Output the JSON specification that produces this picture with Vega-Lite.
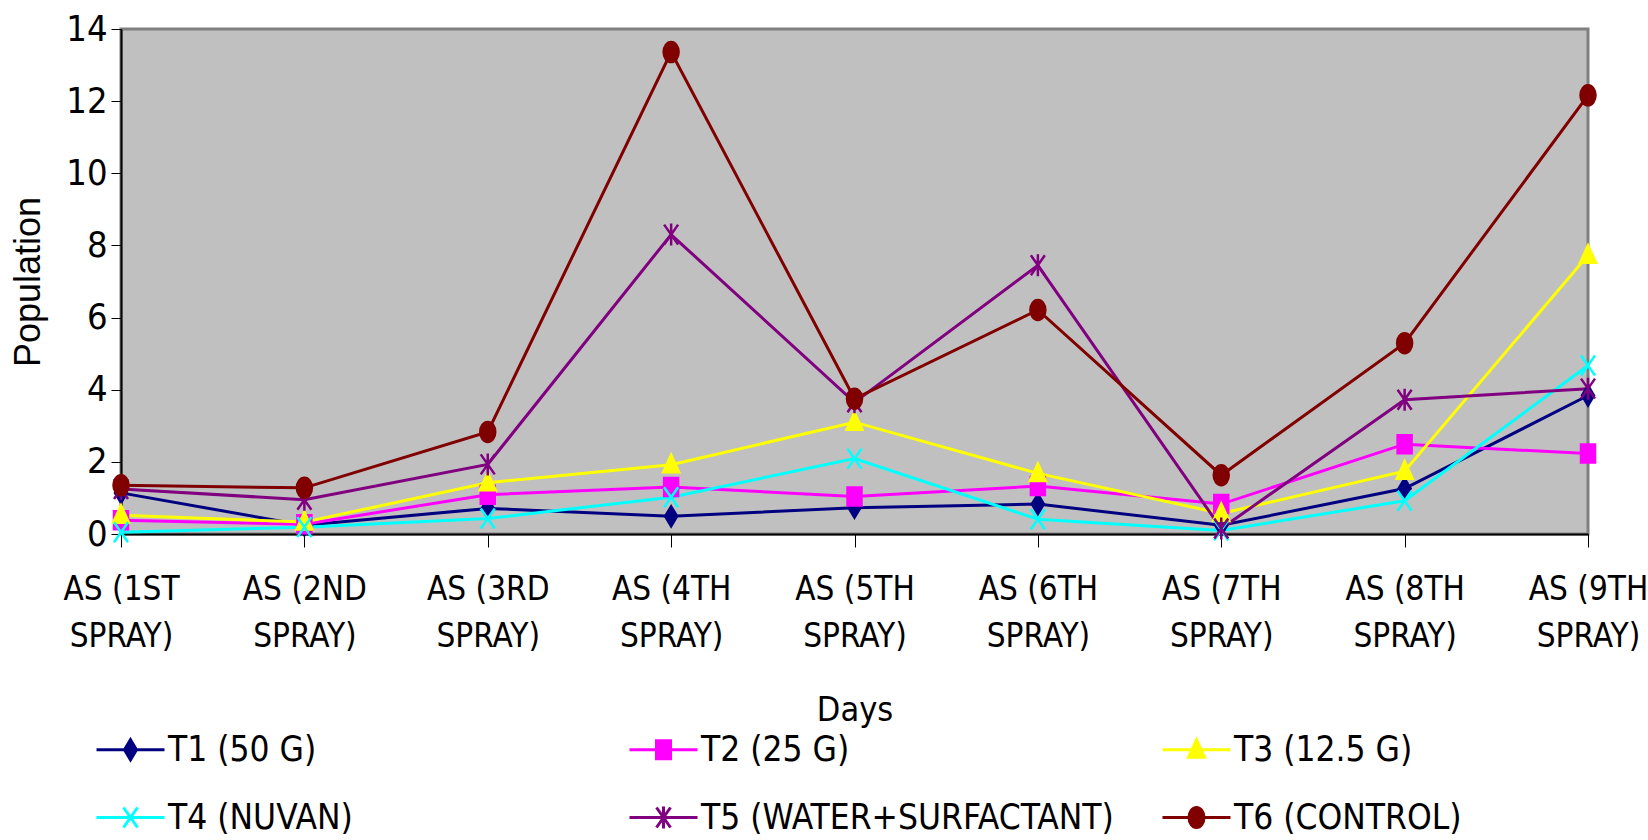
{
  "$schema": "https://vega.github.io/schema/vega-lite/v6.json",
  "width": 1467,
  "height": 505,
  "autosize": {"type": "none"},
  "padding": {"left": 121, "top": 29, "right": 60, "bottom": 306},
  "background": "white",
  "config": {
    "font": "DejaVu Sans Condensed, Noto Sans Condensed, Liberation Sans, sans-serif",
    "view": {"fill": "#C0C0C0", "stroke": "#808080", "strokeWidth": 3}
  },
  "data": {
    "values": [
      {"day": "AS (1ST SPRAY)", "t": "T1 (50 G)", "v": 1.14},
      {"day": "AS (2ND SPRAY)", "t": "T1 (50 G)", "v": 0.24},
      {"day": "AS (3RD SPRAY)", "t": "T1 (50 G)", "v": 0.71},
      {"day": "AS (4TH SPRAY)", "t": "T1 (50 G)", "v": 0.49},
      {"day": "AS (5TH SPRAY)", "t": "T1 (50 G)", "v": 0.73},
      {"day": "AS (6TH SPRAY)", "t": "T1 (50 G)", "v": 0.83},
      {"day": "AS (7TH SPRAY)", "t": "T1 (50 G)", "v": 0.24},
      {"day": "AS (8TH SPRAY)", "t": "T1 (50 G)", "v": 1.26},
      {"day": "AS (9TH SPRAY)", "t": "T1 (50 G)", "v": 3.84},
      {"day": "AS (1ST SPRAY)", "t": "T2 (25 G)", "v": 0.38},
      {"day": "AS (2ND SPRAY)", "t": "T2 (25 G)", "v": 0.27},
      {"day": "AS (3RD SPRAY)", "t": "T2 (25 G)", "v": 1.09},
      {"day": "AS (4TH SPRAY)", "t": "T2 (25 G)", "v": 1.3},
      {"day": "AS (5TH SPRAY)", "t": "T2 (25 G)", "v": 1.04},
      {"day": "AS (6TH SPRAY)", "t": "T2 (25 G)", "v": 1.33},
      {"day": "AS (7TH SPRAY)", "t": "T2 (25 G)", "v": 0.83},
      {"day": "AS (8TH SPRAY)", "t": "T2 (25 G)", "v": 2.49},
      {"day": "AS (9TH SPRAY)", "t": "T2 (25 G)", "v": 2.23},
      {"day": "AS (1ST SPRAY)", "t": "T3 (12.5 G)", "v": 0.52},
      {"day": "AS (2ND SPRAY)", "t": "T3 (12.5 G)", "v": 0.33},
      {"day": "AS (3RD SPRAY)", "t": "T3 (12.5 G)", "v": 1.42},
      {"day": "AS (4TH SPRAY)", "t": "T3 (12.5 G)", "v": 1.92},
      {"day": "AS (5TH SPRAY)", "t": "T3 (12.5 G)", "v": 3.1},
      {"day": "AS (6TH SPRAY)", "t": "T3 (12.5 G)", "v": 1.68},
      {"day": "AS (7TH SPRAY)", "t": "T3 (12.5 G)", "v": 0.57},
      {"day": "AS (8TH SPRAY)", "t": "T3 (12.5 G)", "v": 1.74},
      {"day": "AS (9TH SPRAY)", "t": "T3 (12.5 G)", "v": 7.73},
      {"day": "AS (1ST SPRAY)", "t": "T4 (NUVAN)", "v": 0.05},
      {"day": "AS (2ND SPRAY)", "t": "T4 (NUVAN)", "v": 0.19},
      {"day": "AS (3RD SPRAY)", "t": "T4 (NUVAN)", "v": 0.43},
      {"day": "AS (4TH SPRAY)", "t": "T4 (NUVAN)", "v": 1.02},
      {"day": "AS (5TH SPRAY)", "t": "T4 (NUVAN)", "v": 2.09},
      {"day": "AS (6TH SPRAY)", "t": "T4 (NUVAN)", "v": 0.41},
      {"day": "AS (7TH SPRAY)", "t": "T4 (NUVAN)", "v": 0.1},
      {"day": "AS (8TH SPRAY)", "t": "T4 (NUVAN)", "v": 0.92},
      {"day": "AS (9TH SPRAY)", "t": "T4 (NUVAN)", "v": 4.67},
      {"day": "AS (1ST SPRAY)", "t": "T5 (WATER+SURFACTANT)", "v": 1.25},
      {"day": "AS (2ND SPRAY)", "t": "T5 (WATER+SURFACTANT)", "v": 0.95},
      {"day": "AS (3RD SPRAY)", "t": "T5 (WATER+SURFACTANT)", "v": 1.93},
      {"day": "AS (4TH SPRAY)", "t": "T5 (WATER+SURFACTANT)", "v": 8.3},
      {"day": "AS (5TH SPRAY)", "t": "T5 (WATER+SURFACTANT)", "v": 3.65},
      {"day": "AS (6TH SPRAY)", "t": "T5 (WATER+SURFACTANT)", "v": 7.45},
      {"day": "AS (7TH SPRAY)", "t": "T5 (WATER+SURFACTANT)", "v": 0.15},
      {"day": "AS (8TH SPRAY)", "t": "T5 (WATER+SURFACTANT)", "v": 3.72},
      {"day": "AS (9TH SPRAY)", "t": "T5 (WATER+SURFACTANT)", "v": 4.03},
      {"day": "AS (1ST SPRAY)", "t": "T6 (CONTROL)", "v": 1.35},
      {"day": "AS (2ND SPRAY)", "t": "T6 (CONTROL)", "v": 1.28},
      {"day": "AS (3RD SPRAY)", "t": "T6 (CONTROL)", "v": 2.83},
      {"day": "AS (4TH SPRAY)", "t": "T6 (CONTROL)", "v": 13.36},
      {"day": "AS (5TH SPRAY)", "t": "T6 (CONTROL)", "v": 3.75},
      {"day": "AS (6TH SPRAY)", "t": "T6 (CONTROL)", "v": 6.21},
      {"day": "AS (7TH SPRAY)", "t": "T6 (CONTROL)", "v": 1.63},
      {"day": "AS (8TH SPRAY)", "t": "T6 (CONTROL)", "v": 5.29},
      {"day": "AS (9TH SPRAY)", "t": "T6 (CONTROL)", "v": 12.16}
    ]
  },
  "encoding": {
    "x": {
      "field": "day",
      "type": "ordinal",
      "sort": null,
      "scale": {"type": "point", "padding": 0},
      "axis": {
        "title": "Days",
        "titleFontSize": 34,
        "titleFontWeight": "normal",
        "titleColor": "black",
        "titleBaseline": "top",
        "titleY": 159,
        "labelExpr": "[substring(datum.label, 0, 7), substring(datum.label, 8)]",
        "labelAngle": 0,
        "labelFontSize": 33,
        "labelColor": "black",
        "labelLineHeight": 47,
        "labelPadding": 26,
        "tickSize": 13,
        "tickColor": "black",
        "domainColor": "black",
        "domainWidth": 2,
        "labelOverlap": false
      }
    },
    "y": {
      "field": "v",
      "type": "quantitative",
      "scale": {"domain": [0, 14], "nice": false},
      "axis": {
        "title": "Population",
        "titleFont": "Liberation Sans",
        "titleFontSize": 36,
        "titleFontWeight": "normal",
        "titleColor": "black",
        "titleBaseline": "top",
        "titleX": -110,
        "values": [0, 2, 4, 6, 8, 10, 12, 14],
        "labelFontSize": 36,
        "labelColor": "black",
        "labelPadding": 4,
        "tickSize": 10,
        "tickColor": "black",
        "domainColor": "black",
        "domainWidth": 2,
        "grid": false
      }
    }
  },
  "layer": [
    {
      "mark": {"type": "line", "strokeWidth": 3},
      "encoding": {
        "stroke": {
          "field": "t",
          "type": "nominal",
          "scale": {
            "domain": ["T1 (50 G)", "T2 (25 G)", "T3 (12.5 G)", "T4 (NUVAN)", "T5 (WATER+SURFACTANT)", "T6 (CONTROL)"],
            "range": ["#000080", "#FF00FF", "#FFFF00", "#00FFFF", "#800080", "#800000"]
          },
          "legend": null
        }
      }
    },
    {
      "mark": {"type": "point", "filled": true, "opacity": 1, "size": 400, "strokeWidth": 2.5},
      "encoding": {
        "fill": {
          "field": "t",
          "type": "nominal",
          "scale": {
            "domain": ["T1 (50 G)", "T2 (25 G)", "T3 (12.5 G)", "T4 (NUVAN)", "T5 (WATER+SURFACTANT)", "T6 (CONTROL)"],
            "range": ["#000080", "#FF00FF", "#FFFF00", "#00FFFF", "#800080", "#800000"]
          },
          "legend": null
        },
        "stroke": {
          "field": "t",
          "type": "nominal",
          "scale": {
            "domain": ["T1 (50 G)", "T2 (25 G)", "T3 (12.5 G)", "T4 (NUVAN)", "T5 (WATER+SURFACTANT)", "T6 (CONTROL)"],
            "range": ["#000080", "#FF00FF", "#FFFF00", "#00FFFF", "#800080", "#800000"]
          },
          "legend": null
        },
        "shape": {
          "field": "t",
          "type": "nominal",
          "scale": {
            "domain": ["T1 (50 G)", "T2 (25 G)", "T3 (12.5 G)", "T4 (NUVAN)", "T5 (WATER+SURFACTANT)", "T6 (CONTROL)"],
            "range": [
              "M0,-1L0.6,0L0,1L-0.6,0Z",
              "M-0.7,-0.9H0.7V0.9H-0.7Z",
              "M0,-1L0.8,0.75L-0.8,0.75Z",
              "M-0.7,-1L0.7,1M-0.7,1L0.7,-1",
              "M-0.7,-1L0.7,1M-0.7,1L0.7,-1M0,-1.1V1.1",
              "M-0.75,0A0.75,1,0,1,0,0.75,0A0.75,1,0,1,0,-0.75,0Z"
            ]
          },
          "legend": null
        }
      }
    },
    {
      "transform": [{"filter": "false"}],
      "mark": {"type": "point", "filled": true, "opacity": 1, "size": 400, "strokeWidth": 3},
      "encoding": {
        "fill": {
          "field": "t",
          "type": "nominal",
          "scale": {
            "domain": ["T1 (50 G)", "T2 (25 G)", "T3 (12.5 G)", "T4 (NUVAN)", "T5 (WATER+SURFACTANT)", "T6 (CONTROL)"],
            "range": ["#000080", "#FF00FF", "#FFFF00", "#00FFFF", "#800080", "#800000"]
          },
          "legend": {
            "orient": "none",
            "legendX": -8,
            "legendY": 703,
            "columns": 3,
            "direction": "horizontal",
            "title": null,
            "padding": 0,
            "symbolSize": 400,
            "symbolStrokeWidth": 3,
            "labelFontSize": 35,
            "labelColor": "black",
            "labelOffset": 20,
            "labelLimit": 700,
            "columnPadding": 42,
            "rowPadding": 32,
            "gridAlign": "all"
          }
        },
        "stroke": {
          "field": "t",
          "type": "nominal",
          "scale": {
            "domain": ["T1 (50 G)", "T2 (25 G)", "T3 (12.5 G)", "T4 (NUVAN)", "T5 (WATER+SURFACTANT)", "T6 (CONTROL)"],
            "range": ["#000080", "#FF00FF", "#FFFF00", "#00FFFF", "#800080", "#800000"]
          }
        },
        "shape": {
          "field": "t",
          "type": "nominal",
          "scale": {
            "domain": ["T1 (50 G)", "T2 (25 G)", "T3 (12.5 G)", "T4 (NUVAN)", "T5 (WATER+SURFACTANT)", "T6 (CONTROL)"],
            "range": [
              "M0,-1L0.6,0L0,1L-0.6,0Z M-3.4,0H3.4",
              "M-0.7,-0.9H0.7V0.9H-0.7Z M-3.4,0H3.4",
              "M0,-1L0.8,0.75L-0.8,0.75Z M-3.4,0H3.4",
              "M-0.7,-1L0.7,1M-0.7,1L0.7,-1 M-3.4,0H3.4",
              "M-0.7,-1L0.7,1M-0.7,1L0.7,-1M0,-1.1V1.1 M-3.4,0H3.4",
              "M-0.75,0A0.75,1,0,1,0,0.75,0A0.75,1,0,1,0,-0.75,0Z M-3.4,0H3.4"
            ]
          }
        }
      }
    }
  ],
  "resolve": {"scale": {"stroke": "independent", "fill": "independent", "shape": "independent"}}
}
